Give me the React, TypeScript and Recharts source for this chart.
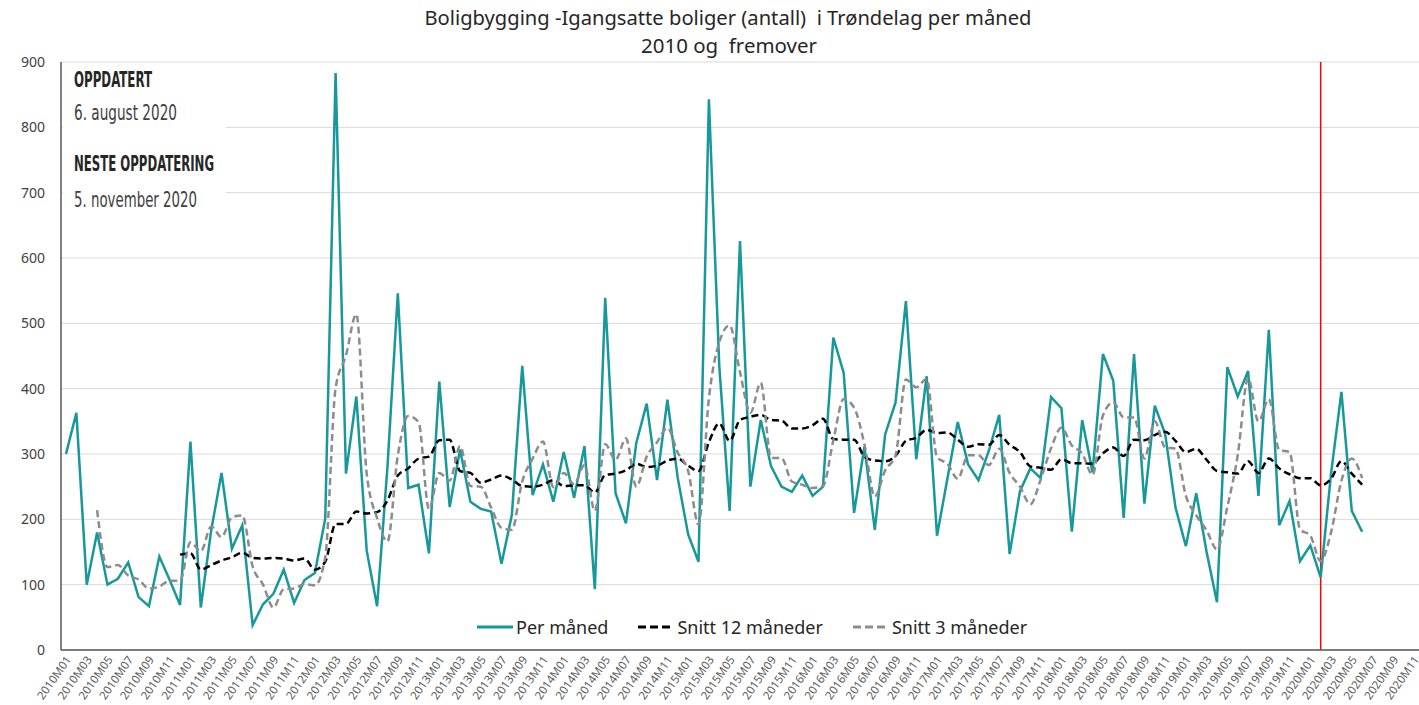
import React from "react";
import {
  LineChart,
  Line,
  XAxis,
  YAxis,
  CartesianGrid,
  ReferenceLine,
} from "recharts";

// category axis: 2010M01 .. 2020M11
const YEARS = [2010, 2011, 2012, 2013, 2014, 2015, 2016, 2017, 2018, 2019, 2020];
const MONTHS = ["01", "02", "03", "04", "05", "06", "07", "08", "09", "10", "11", "12"];
const LAST_MONTH = "2020M11";

// igangsatte boliger per måned, from 2010M01
const PER_MONTH = [
  300, 363, 100, 180, 100, 109, 134, 81, 67, 143, 107, 69,
  319, 65, 183, 271, 155, 191, 38, 70, 86, 123, 72, 107,
  118, 201, 883, 270, 388, 152, 67, 280, 546, 248, 253, 148,
  411, 219, 307, 227, 216, 212, 132, 207, 435, 237, 284, 227,
  303, 233, 312, 93, 539, 240, 194, 317, 377, 260, 383, 263,
  177, 135, 843, 435, 213, 626, 250, 352, 281, 250, 242, 267,
  236, 250, 478, 424, 210, 311, 184, 330, 379, 534, 292, 419,
  175, 262, 349, 284, 260, 305, 360, 147, 243, 278, 263, 387,
  370, 181, 352, 272, 453, 412, 202, 453, 224, 374, 331, 218,
  159, 240, 150, 73, 433, 388, 427, 236, 490, 191, 228, 136,
  160, 111, 270, 395, 213, 181,
];

// snitt 12 måneder, from 2010M12
const SNITT_12_START = "2010M12";
const SNITT_12 = [
  146,
  148, 123, 130, 137, 142, 149, 141, 140, 141, 140, 137, 140,
  123, 135, 193, 193, 212, 209, 211, 229, 267, 278, 293, 296,
  321, 322, 274, 271, 256, 261, 267, 261, 251, 250, 253, 260,
  251, 252, 252, 241, 268, 270, 275, 285, 280, 282, 290, 293,
  282, 274, 318, 347, 320, 352, 357, 360, 352, 351, 339, 339,
  344, 354, 323, 322, 322, 296, 290, 289, 297, 320, 325, 337,
  332, 333, 322, 311, 315, 314, 329, 314, 303, 281, 279, 276,
  292, 286, 286, 285, 301, 310, 297, 322, 321, 329, 334, 320,
  303, 308, 291, 274, 272, 270, 289, 271, 293, 278, 269, 263,
  263, 252, 262, 289, 270, 253,
];

// snitt 3 måneder, from 2010M04
const SNITT_3_START = "2010M04";
const SNITT_3 = [
  214, 127, 130, 114, 108, 94, 97, 106, 106,
  165, 151, 189, 173, 203, 206, 128, 100, 65, 93, 94, 101,
  99, 142, 401, 451, 514, 270, 202, 166, 298, 358, 349, 216,
  271, 259, 312, 251, 250, 218, 187, 184, 258, 293, 319, 249,
  271, 254, 283, 213, 315, 291, 324, 250, 296, 318, 340, 302,
  274, 192, 385, 471, 497, 425, 363, 409, 294, 294, 258, 253,
  248, 251, 321, 384, 371, 315, 235, 275, 298, 414, 402, 415,
  295, 285, 262, 298, 298, 283, 308, 271, 250, 223, 261, 309,
  340, 313, 301, 268, 359, 379, 356, 356, 293, 350, 310, 308,
  236, 206, 183, 154, 219, 298, 416, 350, 384, 306, 303, 185,
  175, 136, 180, 259, 293, 263,
];

const Y_TICKS = [0, 100, 200, 300, 400, 500, 600, 700, 800, 900];
const CUTOFF_MONTH = "2020M02";

const TITLE = ["Boligbygging -Igangsatte boliger (antall)  i Trøndelag per måned", "2010 og  fremover"];

const SERIES = [
  { key: "perMonth", name: "Per måned", color: "#17989b", dash: undefined, type: "linear" },
  { key: "snitt12", name: "Snitt 12 måneder", color: "#000000", dash: "7 4", type: "monotone" },
  { key: "snitt3", name: "Snitt 3 måneder", color: "#8c8c8c", dash: "7 4", type: "monotone" },
];

const months: string[] = [];
YEARS.forEach((y) =>
  MONTHS.forEach((m) => {
    const label = `${y}M${m}`;
    if (label <= LAST_MONTH) months.push(label);
  })
);

const start12 = months.indexOf(SNITT_12_START);
const start3 = months.indexOf(SNITT_3_START);

const chartData = months.map((month, i) => ({
  month,
  perMonth: PER_MONTH[i] ?? null,
  snitt12: i >= start12 ? SNITT_12[i - start12] ?? null : null,
  snitt3: i >= start3 ? SNITT_3[i - start3] ?? null : null,
}));

const FONT = "'Noto Sans', 'Open Sans', sans-serif";
const NARROW = "'Liberation Sans Narrow', 'DejaVu Sans Condensed', 'Roboto', sans-serif";

function MonthTick({ x, y, payload }: any) {
  const tx = x + 2;
  const ty = y + 7;
  return (
    <text
      x={tx}
      y={ty}
      transform={`rotate(-55, ${tx}, ${ty})`}
      textAnchor="end"
      dominantBaseline="central"
      fontSize={11.5}
      fontFamily={FONT}
      fill="#595959"
    >
      {payload.value}
    </text>
  );
}

// legend is drawn as plain html over the plot, like the excel original
function ChartLegend() {
  return (
    <div
      style={{
        position: "absolute",
        left: 477,
        top: 615,
        display: "flex",
        alignItems: "center",
        fontFamily: FONT,
        fontSize: 18,
        color: "#262626",
        whiteSpace: "nowrap",
      }}
    >
      {SERIES.map((s, i) => (
        <div key={s.key} style={{ display: "flex", alignItems: "center", marginLeft: i === 0 ? 0 : 30 }}>
          <svg width={36} height={10}>
            <line x1={0} y1={5} x2={36} y2={5} stroke={s.color} strokeWidth={3} strokeDasharray={s.dash ? "8 4" : undefined} />
          </svg>
          <span style={{ marginLeft: 3 }}>{s.name}</span>
        </div>
      ))}
    </div>
  );
}

export default function App() {
  return (
    <div style={{ position: "absolute", left: 0, top: 0, width: 1419, height: 705, background: "#fff", overflow: "hidden" }}>
      <LineChart width={1419} height={705} data={chartData} margin={{ top: 62, right: 0, bottom: 0, left: 0 }}>
        <CartesianGrid vertical={false} stroke="#d9d9d9" strokeWidth={1} />
        <XAxis
          dataKey="month"
          interval={1}
          height={55}
          tick={<MonthTick />}
          tickLine={false}
          tickSize={0}
          tickMargin={0}
          padding={{ left: 5, right: 5 }}
          axisLine={{ stroke: "#595959", strokeWidth: 1.5 }}
        />
        <YAxis
          width={61}
          domain={[0, 900]}
          ticks={Y_TICKS}
          tickLine={false}
          tickSize={0}
          tickMargin={16}
          axisLine={{ stroke: "#595959", strokeWidth: 1.5 }}
          tick={{ fill: "#404040", fontSize: 14, fontFamily: FONT }}
        />
        <ReferenceLine x={CUTOFF_MONTH} stroke="#ff0000" strokeWidth={1.5} />
        {SERIES.map((s) => (
          <Line
            key={s.key}
            dataKey={s.key}
            name={s.name}
            type={s.type as any}
            stroke={s.color}
            strokeWidth={2.5}
            strokeDasharray={s.dash}
            dot={false}
            connectNulls={false}
            isAnimationActive={false}
          />
        ))}
      </LineChart>

      <ChartLegend />

      <svg width={1419} height={705} style={{ position: "absolute", left: 0, top: 0, pointerEvents: "none" }}>
        <text x={728} y={25} textAnchor="middle" fontFamily={FONT} fontSize={19} fill="#262626" textLength={607} lengthAdjust="spacingAndGlyphs" style={{ whiteSpace: "pre" }}>
          {TITLE[0]}
        </text>
        <text x={729} y={53} textAnchor="middle" fontFamily={FONT} fontSize={19} fill="#262626" textLength={176} lengthAdjust="spacingAndGlyphs" style={{ whiteSpace: "pre" }}>
          {TITLE[1]}
        </text>
        <rect x={63} y={66} width={163} height={150} fill="#ffffff" />
        <text x={74} y={87} fontFamily={NARROW} fontWeight="bold" fontSize={21} fill="#262626" textLength={78} lengthAdjust="spacingAndGlyphs">
          OPPDATERT
        </text>
        <text x={74} y={120} fontFamily={NARROW} fontSize={21} fill="#404040" textLength={103} lengthAdjust="spacingAndGlyphs">
          6. august 2020
        </text>
        <text x={74} y={171} fontFamily={NARROW} fontWeight="bold" fontSize={21} fill="#262626" textLength={140} lengthAdjust="spacingAndGlyphs">
          NESTE OPPDATERING
        </text>
        <text x={74} y={207} fontFamily={NARROW} fontSize={21} fill="#404040" textLength={123} lengthAdjust="spacingAndGlyphs">
          5. november 2020
        </text>
      </svg>
    </div>
  );
}
